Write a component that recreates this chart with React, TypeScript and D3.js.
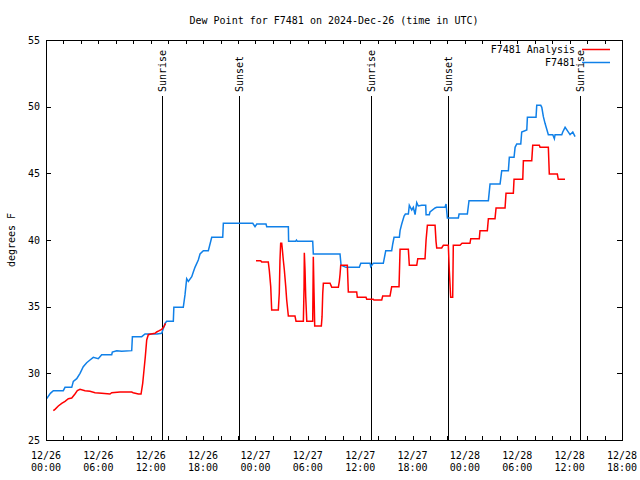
import React from "react";
import * as d3 from "d3";

// Hours after 2024-12-26 00:00 UTC, dew point (°F)
const observed: [number, number][] = [
  [0.08, 28.1], [0.5, 28.5], [0.84, 28.7], [1.98, 28.7], [2.18, 28.95], [2.95, 28.95],
  [3.13, 29.4], [3.52, 29.6], [3.9, 30.0], [4.27, 30.5], [4.66, 30.8], [5.04, 31.0],
  [5.42, 31.2], [5.99, 31.1], [6.38, 31.4], [7.53, 31.4], [7.6, 31.6], [8.1, 31.7],
  [8.67, 31.65], [9.82, 31.7], [9.9, 32.75], [10.97, 32.75], [11.35, 32.95], [12.72, 32.95],
  [13.26, 33.0], [13.64, 33.75], [13.83, 33.9], [14.59, 33.9], [14.65, 34.95], [15.73, 34.95],
  [15.93, 35.9], [16.12, 37.1], [16.31, 36.9], [16.7, 37.25], [16.88, 37.6], [17.07, 37.95],
  [17.45, 38.5], [17.65, 38.95], [18.03, 39.2], [18.6, 39.2], [18.99, 40.2], [20.25, 40.2],
  [20.32, 41.25], [23.69, 41.25], [23.95, 41.0], [24.15, 41.2], [25.21, 41.2], [25.29, 41.0],
  [27.77, 41.0], [27.8, 39.9], [28.6, 39.9], [28.7, 40.0], [28.8, 39.9], [30.56, 39.9],
  [30.63, 38.95], [33.69, 38.95], [33.81, 38.1], [34.38, 37.95], [35.9, 37.95], [36.07, 38.25],
  [37.13, 38.25], [37.21, 38.0], [37.5, 38.25], [38.65, 38.25], [38.93, 39.2], [39.61, 39.2],
  [39.73, 39.7], [39.88, 40.2], [40.49, 40.2], [40.57, 40.7], [40.76, 41.2], [41.03, 41.8],
  [41.18, 41.95], [41.52, 41.95], [41.63, 42.6], [41.91, 42.25], [42.09, 42.45], [42.29, 41.9],
  [42.48, 42.8], [42.66, 42.55], [43.05, 42.6], [43.51, 42.6], [43.55, 41.9], [43.92, 41.9],
  [44.0, 42.1], [44.58, 42.4], [44.77, 42.45], [45.72, 42.45], [45.84, 42.7], [45.99, 41.65],
  [47.25, 41.65], [47.33, 41.95], [48.28, 41.95], [48.47, 42.95], [50.69, 42.95], [50.88, 44.2],
  [52.03, 44.2], [52.22, 45.2], [52.98, 45.2], [53.09, 46.2], [53.63, 46.2], [53.75, 46.95],
  [53.94, 47.2], [54.4, 47.2], [54.51, 48.1], [55.09, 48.25], [55.16, 49.2], [56.15, 49.2],
  [56.23, 50.1], [56.69, 50.1], [56.81, 49.95], [56.99, 49.25], [57.18, 48.75], [57.38, 48.3],
  [57.56, 47.9], [58.07, 47.9], [58.25, 47.6], [58.33, 47.9], [59.1, 47.9], [59.21, 48.1],
  [59.48, 48.45], [59.74, 48.2], [60.05, 47.9], [60.36, 48.1], [60.62, 47.75],
];

const analysisEarly: [number, number][] = [
  [0.84, 27.2], [1.03, 27.3], [1.41, 27.55], [1.8, 27.75], [2.18, 27.9], [2.56, 28.1],
  [2.95, 28.15], [3.32, 28.45], [3.59, 28.7], [3.9, 28.8], [4.47, 28.7], [5.04, 28.65],
  [5.62, 28.55], [6.38, 28.5], [7.33, 28.45], [7.53, 28.55], [8.48, 28.6], [9.82, 28.6],
  [9.99, 28.55], [10.58, 28.45], [10.89, 28.45], [11.08, 29.25], [11.23, 30.25], [11.38, 31.25],
  [11.54, 32.5], [11.72, 32.9], [12.03, 32.95], [12.49, 33.0], [12.68, 33.1], [12.98, 33.2],
  [13.26, 33.3], [13.52, 33.5], [13.7, 33.75],
];

const analysisLate: [number, number][] = [
  [24.06, 38.45], [24.6, 38.45], [24.72, 38.35], [25.47, 38.35], [25.59, 37.7], [25.75, 36.5],
  [25.86, 34.75], [26.62, 34.75], [26.73, 36.0], [26.81, 38.5], [26.89, 39.75], [27.01, 39.75],
  [27.08, 39.3], [27.19, 38.5], [27.31, 37.75], [27.47, 36.5], [27.58, 35.5], [27.77, 34.3],
  [28.53, 34.3], [28.65, 33.9], [29.49, 33.9], [29.57, 36.5], [29.6, 39.05], [29.68, 37.75],
  [29.76, 35.75], [29.88, 33.9], [30.56, 33.9], [30.63, 38.75], [30.71, 36.1], [30.79, 33.55],
  [31.55, 33.55], [31.63, 34.25], [31.71, 36.0], [31.78, 36.75], [32.55, 36.75], [32.74, 36.45],
  [33.5, 36.45], [33.61, 36.9], [33.69, 37.4], [33.77, 38.1], [34.53, 38.1], [34.64, 36.1],
  [35.6, 36.1], [35.67, 35.7], [36.67, 35.7], [36.75, 35.55], [37.5, 35.55], [37.58, 35.5],
  [38.47, 35.5], [38.58, 35.8], [39.42, 35.8], [39.61, 36.5], [40.45, 36.5], [40.57, 39.3],
  [41.52, 39.3], [41.63, 38.1], [42.48, 38.1], [42.6, 38.6], [43.43, 38.6], [43.55, 40.0],
  [43.7, 41.1], [44.58, 41.1], [44.69, 39.9], [44.77, 39.4], [45.34, 39.4], [45.53, 39.6],
  [46.1, 39.6], [46.21, 37.75], [46.37, 35.7], [46.6, 35.7], [46.67, 39.6], [47.44, 39.6],
  [47.67, 39.75], [48.58, 39.75], [48.67, 40.1], [49.65, 40.1], [49.73, 40.7], [50.57, 40.7],
  [50.69, 41.6], [51.45, 41.6], [51.57, 42.4], [52.6, 42.4], [52.71, 43.5], [53.55, 43.5],
  [53.63, 44.55], [54.63, 44.55], [54.7, 45.95], [55.66, 45.95], [55.77, 47.1], [56.53, 47.1],
  [56.61, 46.95], [57.56, 46.95], [57.67, 44.95], [58.59, 44.95], [58.7, 44.55], [59.47, 44.55],
];

const sunLabels = ["Sunrise", "Sunset", "Sunrise", "Sunset", "Sunrise"];
const sunHours = [13.28, 22.12, 37.25, 46.1, 61.22];

const yTicks = [25, 30, 35, 40, 45, 50, 55];
const seriesNames = ["F7481 Analysis", "F7481"];
const seriesColors = ["#ff0000", "#1080e8"];

const TITLE = "Dew Point for F7481 on 2024-Dec-26 (time in UTC)";
const START = Date.UTC(2024, 11, 26, 0, 0);
const SPAN_HOURS = 66;

const W = 640, H = 480;
const L = 46, R = 622, T = 40, B = 440;
const FONT = "'DejaVu Sans Mono', 'Liberation Mono', monospace";

export default function App() {
  const toDate = (h: number) => new Date(START + h * 3600e3);
  const x = d3.scaleUtc().domain([toDate(0), toDate(SPAN_HOURS)]).range([L, R]);
  const y = d3.scaleLinear().domain([25, 55]).range([B, T]);
  const line = d3
    .line<[number, number]>()
    .x((d) => x(toDate(d[0])))
    .y((d) => y(d[1]));

  const minorTicks = d3.utcHour.every(2)!.range(toDate(0), toDate(SPAN_HOURS + 0.01));
  const labelTicks = d3.utcHour.every(6)!.range(toDate(0), toDate(SPAN_HOURS + 0.01));
  const fmtDate = d3.utcFormat("%m/%d");
  const fmtTime = d3.utcFormat("%H:%M");
  const sunTop = T + (B - T) * 0.14;

  return (
    <svg
      width={W}
      height={H}
      style={{ position: "absolute", left: 0, top: 0, background: "#fff" }}
      fontFamily={FONT}
      fontSize={10}
    >
      <rect x={0} y={0} width={W} height={H} fill="#fff" />
      <text x={(L + R) / 2} y={24} textAnchor="middle" fill="#000">{TITLE}</text>

      {/* ticks */}
      <g stroke="#000" shapeRendering="crispEdges">
        {minorTicks.map((t, i) => (
          <g key={i}>
            <line x1={Math.round(x(t)) + 0.5} x2={Math.round(x(t)) + 0.5} y1={B} y2={B - 4} />
            <line x1={Math.round(x(t)) + 0.5} x2={Math.round(x(t)) + 0.5} y1={T} y2={T + 4} />
          </g>
        ))}
        {yTicks.map((v, i) => (
          <g key={i}>
            <line x1={L} x2={L + 5} y1={Math.round(y(v)) + 0.5} y2={Math.round(y(v)) + 0.5} />
            <line x1={R} x2={R - 5} y1={Math.round(y(v)) + 0.5} y2={Math.round(y(v)) + 0.5} />
          </g>
        ))}
      </g>

      {labelTicks.map((t, i) => (
        <g key={i} fill="#000" textAnchor="middle">
          <text x={x(t)} y={459}>{fmtDate(t)}</text>
          <text x={x(t)} y={471}>{fmtTime(t)}</text>
        </g>
      ))}
      {yTicks.map((v, i) => (
        <text key={i} x={40} y={y(v)} dy="0.35em" textAnchor="end" fill="#000">{v}</text>
      ))}
      <text transform={`translate(11,${(T + B) / 2}) rotate(-90)`} textAnchor="middle" dy="0.35em" fill="#000">
        degrees F
      </text>

      {/* sunrise / sunset */}
      {sunHours.map((h, i) => {
        const sx = Math.round(x(toDate(h))) + 0.5;
        return (
          <g key={i}>
            <line x1={sx} x2={sx} y1={sunTop} y2={B} stroke="#000" strokeWidth={1} shapeRendering="crispEdges" />
            <text transform={`translate(${sx},${sunTop - 4}) rotate(-90)`} dy="0.35em" textAnchor="start" fill="#000">
              {sunLabels[i]}
            </text>
          </g>
        );
      })}

      {/* data */}
      <path d={line(observed) || ""} fill="none" stroke={seriesColors[1]} strokeWidth={1.5} />
      <path d={line(analysisEarly) || ""} fill="none" stroke={seriesColors[0]} strokeWidth={1.5} />
      <path d={line(analysisLate) || ""} fill="none" stroke={seriesColors[0]} strokeWidth={1.5} />

      {/* frame */}
      <rect x={L + 0.5} y={T + 0.5} width={R - L} height={B - T} fill="none" stroke="#000" shapeRendering="crispEdges" />

      {/* legend */}
      {seriesNames.map((n, i) => (
        <g key={i}>
          <text x={575} y={49 + i * 13} dy="0.35em" textAnchor="end" fill="#000">{n}</text>
          <line x1={582} x2={610} y1={49.5 + i * 13} y2={49.5 + i * 13} stroke={seriesColors[i]} strokeWidth={1.5} />
        </g>
      ))}
    </svg>
  );
}
